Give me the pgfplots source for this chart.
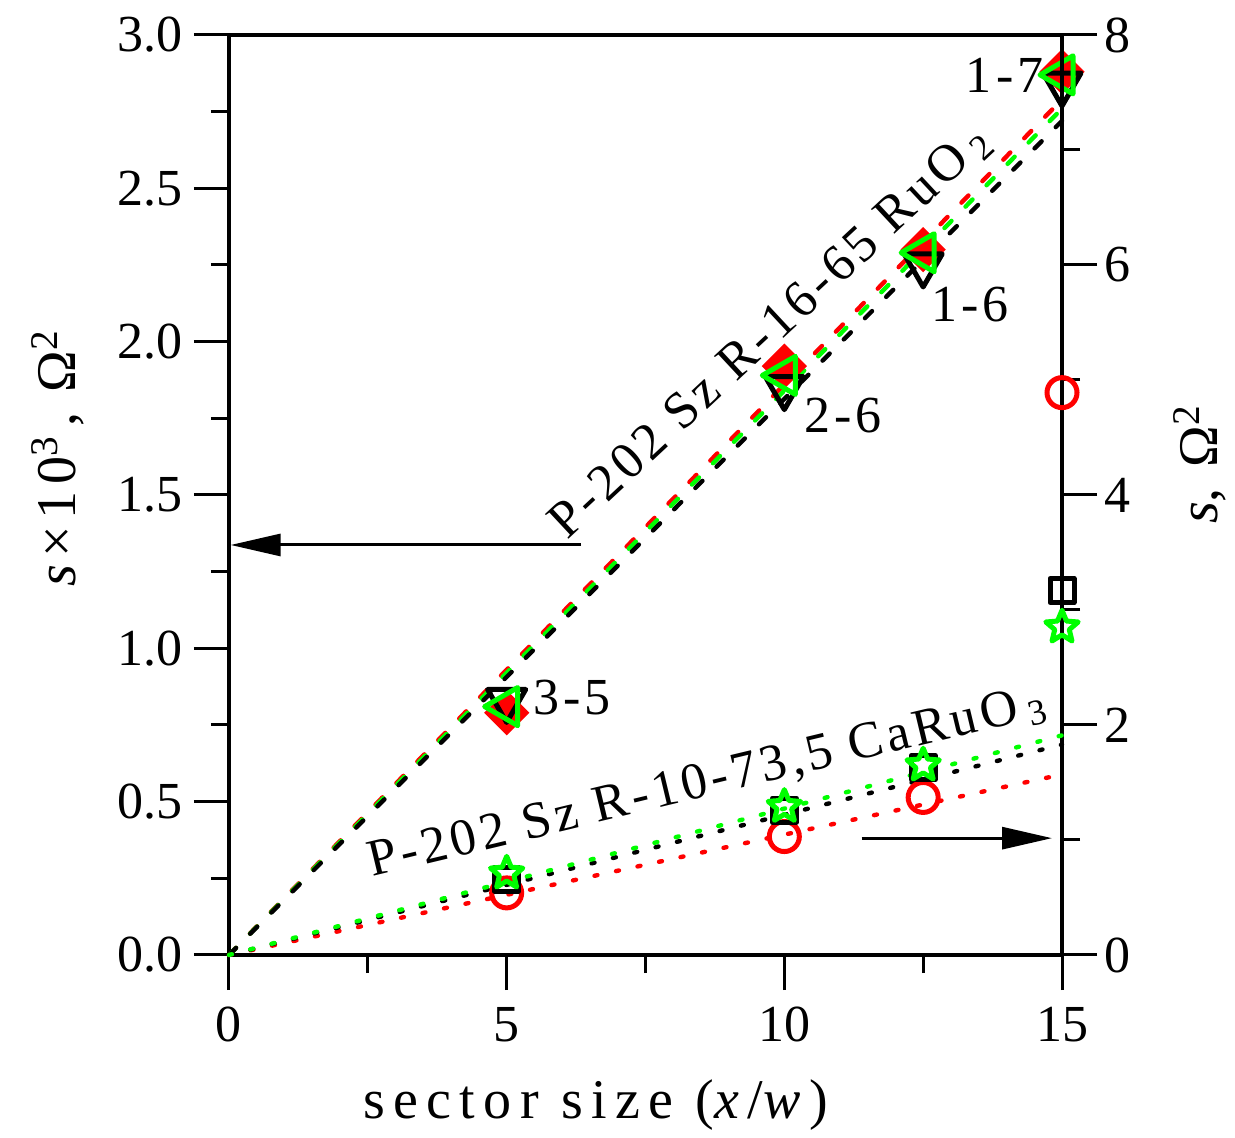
\documentclass[border=0pt]{standalone}
\usepackage{fontspec}
\setmainfont{Liberation Serif}
\usepackage{pgfplots}
\pgfplotsset{compat=1.18}
\usetikzlibrary{arrows.meta}
\pgfdeclareplotmark{ostar}{%
  \pgfpathmoveto{\pgfqpointpolar{90}{\pgfplotmarksize}}%
  \pgfpathlineto{\pgfqpointpolar{126}{0.45\pgfplotmarksize}}%
  \pgfpathlineto{\pgfqpointpolar{162}{\pgfplotmarksize}}%
  \pgfpathlineto{\pgfqpointpolar{198}{0.45\pgfplotmarksize}}%
  \pgfpathlineto{\pgfqpointpolar{234}{\pgfplotmarksize}}%
  \pgfpathlineto{\pgfqpointpolar{270}{0.45\pgfplotmarksize}}%
  \pgfpathlineto{\pgfqpointpolar{306}{\pgfplotmarksize}}%
  \pgfpathlineto{\pgfqpointpolar{342}{0.45\pgfplotmarksize}}%
  \pgfpathlineto{\pgfqpointpolar{18}{\pgfplotmarksize}}%
  \pgfpathlineto{\pgfqpointpolar{54}{0.45\pgfplotmarksize}}%
  \pgfpathclose\pgfusepathqstroke}
\newcommand\tf{\fontsize{26}{30}\selectfont\addfontfeatures{LetterSpace=8}}
\newcommand\lf{\fontsize{28}{32}\selectfont\addfontfeatures{LetterSpace=12}}
\newcommand\xf{\fontsize{28}{32}\selectfont\addfontfeatures{LetterSpace=15}}
\begin{document}
\begin{tikzpicture}
\pgfplotsset{
  common/.style={
    scale only axis, width=416.5pt, height=460pt,
    xmin=0, xmax=15, clip=false,
    tick align=outside,
    major tick length=17.5pt, minor tick length=9pt,
    every tick/.style={black, line width=1.5pt},
    axis line style={line width=2pt},
    tick label style={font=\fontsize{26}{30}\selectfont},
    /pgf/number format/assume math mode=true,
  },
  upfit/.style={line width=2.2pt, line cap=round, dash pattern=on 5pt off 10pt, no marks},
  lofit/.style={line width=2.2pt, line cap=round, dash pattern=on 1.5pt off 9.5pt, no marks},
}
\begin{axis}[common,
  ymin=0, ymax=3,
  xtick={0,5,10,15}, minor xtick={2.5,7.5,12.5},
  ytick={0,0.5,...,3.0}, minor ytick={0.25,0.75,...,2.75},
  xtick pos=bottom, ytick pos=left,
  xticklabel style={yshift=-5pt},
  yticklabel style={xshift=-2pt, /pgf/number format/.cd, fixed, fixed zerofill, precision=1},
  xlabel={sector size (\textit{x}/\textit{w})},
  xlabel style={font=\xf, at={(axis description cs:0.44,-0.163)}, anchor=center},
  ylabel={\textit{s}×10\textsuperscript{3}\,, Ω\textsuperscript{2}},
  ylabel style={font=\lf, at={(axis description cs:-0.205,0.54)}, anchor=center},
]
\coordinate (O) at (axis cs:0,0);
% fits (left scale)
\addplot[upfit, red]   coordinates {(0,0) (15,2.79)};
\addplot[upfit, green] coordinates {(0,0) (15,2.76)};
\addplot[upfit, black] coordinates {(0,0) (15,2.72)};
% data (left scale)
\addplot[only marks, mark=square*, mark size=7.5pt, mark options={solid, rotate=45, draw=red, fill=red, line width=1pt}] coordinates {(5,0.79) (10,1.92) (12.5,2.30) (15,2.88)};
\addplot[only marks, mark=triangle, mark size=11pt, mark options={solid, rotate=180, draw=black, line width=2.5pt, line join=round}] coordinates {(5,0.83) (10,1.85) (12.5,2.25) (15,2.84)};
\addplot[only marks, mark=triangle, mark size=11pt, mark options={solid, rotate=90, draw=green, line width=2.5pt, line join=round}] coordinates {(5,0.81) (10,1.89) (12.5,2.29) (15,2.87)};
% annotations
\node[font=\tf] at (axis cs:13.97,2.87) {1-7};
\node[font=\tf] at (axis cs:13.34,2.12) {1-6};
\node[font=\tf] at (axis cs:11.06,1.76) {2-6};
\node[font=\tf] at (axis cs:6.18,0.84) {3-5};
\node[font=\tf, rotate=43] at (axis cs:9.75,2.03) {P-202 Sz R-16-65 RuO\,\textsubscript{2}};
\node[font=\tf, rotate=13.5] at (axis cs:8.61,0.561) {P-202 Sz R-10-73,5 CaRuO\,\textsubscript{3}};
\draw[line width=1.5pt, -{Triangle[length=25pt,width=11pt]}] (axis cs:6.34,1.337) -- (axis cs:0.03,1.337);
\draw[line width=1.5pt, -{Triangle[length=25pt,width=11pt]}] (axis cs:11.39,0.381) -- (axis cs:14.82,0.381);
\end{axis}
\begin{axis}[common,
  ymin=0, ymax=8,
  axis x line=none, axis y line*=right,
  ytick={0,2,...,8}, minor ytick={1,3,5,7},
  ylabel={\textit{s}, Ω\textsuperscript{2}},
  ylabel style={font=\lf, at={(axis description cs:1.166,0.533)}, anchor=center, rotate=0},
]
\addplot[lofit, red]   coordinates {(0,0) (15,1.57)};
\addplot[lofit, black] coordinates {(0,0) (15,1.83)};
\addplot[lofit, green] coordinates {(0,0) (15,1.91)};
\addplot[only marks, mark=o, mark size=7.5pt, mark options={solid, draw=red, line width=2.5pt}] coordinates {(5,0.54) (10,1.03) (12.5,1.37) (15,4.89)};
\addplot[only marks, mark=square, mark size=6pt, mark options={solid, draw=black, line width=2.5pt, line join=round}] coordinates {(5,0.66) (10,1.26) (12.5,1.63) (15,3.17)};
\addplot[only marks, mark=ostar, mark size=8.5pt, mark options={solid, draw=green, line width=2.5pt, line join=round}] coordinates {(5,0.71) (10,1.29) (12.5,1.65) (15,2.85)};
\end{axis}
\pgfresetboundingbox
\useasboundingbox (O) ++(-114.5pt,-91.5pt) rectangle ++(617.5pt,569pt);
\end{tikzpicture}
\end{document}
